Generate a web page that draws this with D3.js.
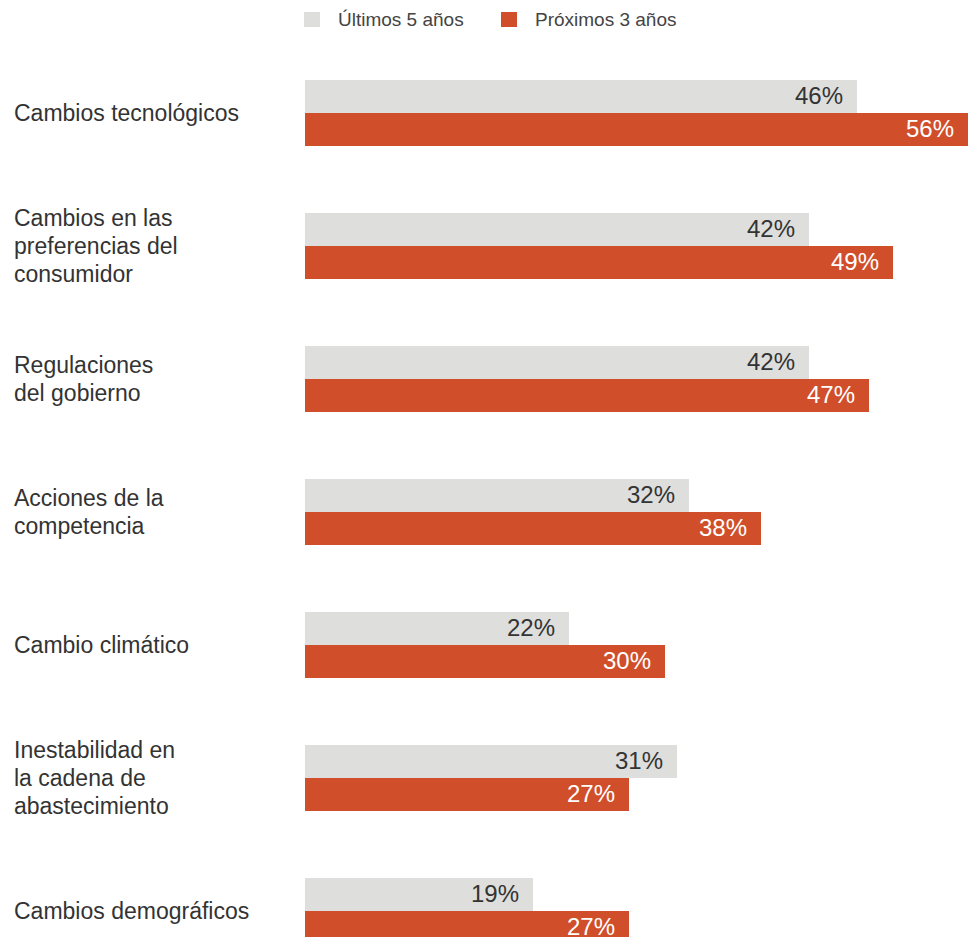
<!DOCTYPE html>
<html>
<head>
<meta charset="utf-8">
<script src="https://cdn.jsdelivr.net/npm/d3@7"></script>
<style>
  html, body { margin: 0; padding: 0; background: #fff; }
  svg { display: block; }
  text { font-family: "Liberation Sans", Arial, Helvetica, sans-serif; }
</style>
</head>
<body>
<svg id="chart" width="968" height="937"></svg>
<script>
// Factores de cambio: últimos 5 años vs. próximos 3 años (%)
const categories = [
  "Cambios tecnológicos",
  "Cambios en las\npreferencias del\nconsumidor",
  "Regulaciones\ndel gobierno",
  "Acciones de la\ncompetencia",
  "Cambio climático",
  "Inestabilidad en\nla cadena de\nabastecimiento",
  "Cambios demográficos"
];
const series = ["Últimos 5 años", "Próximos 3 años"];
const ultimos5 = [46, 42, 42, 32, 22, 31, 19];
const proximos3 = [56, 49, 47, 38, 30, 27, 27];
const seriesColors = ["#dededc", "#d04f2a"];
const labelColors = ["#333333", "#ffffff"];

const svg = d3.select("#chart");

const x = d3.scaleLinear().domain([0, 56]).range([305, 977]);
const y = d3.scaleBand().domain(categories).range([80, 944]).paddingInner(67 / 133).paddingOuter(0);
const ySub = d3.scaleBand().domain(series).range([0, y.bandwidth()]);

const rows = categories.map((c, i) => ({ cat: c, vals: [ultimos5[i], proximos3[i]] }));

// Legend
const legend = svg.append("g");
const legendX = [304, 501];
series.forEach((s, i) => {
  legend.append("rect")
    .attr("x", legendX[i]).attr("y", 12)
    .attr("width", 16).attr("height", 15)
    .attr("fill", seriesColors[i]);
  legend.append("text")
    .attr("x", legendX[i] + 34).attr("y", 26)
    .attr("font-size", 19).attr("fill", "#444")
    .text(s);
});

// Category labels
const lineH = 28;
svg.append("g").selectAll("text.cat")
  .data(rows).join("text")
  .attr("class", "cat")
  .attr("font-size", 23)
  .attr("fill", "#333")
  .each(function (d) {
    const lines = d.cat.split("\n");
    const cy = y(d.cat) + y.bandwidth() / 2;
    d3.select(this).selectAll("tspan").data(lines).join("tspan")
      .attr("x", 14)
      .attr("y", (l, j) => cy + (j - (lines.length - 1) / 2) * lineH + 8)
      .text(l => l);
  });

// Bars and value labels
const groups = svg.append("g").selectAll("g.row")
  .data(rows).join("g")
  .attr("class", "row")
  .attr("transform", d => `translate(0,${y(d.cat)})`);

groups.selectAll("rect")
  .data(d => d.vals.map((v, k) => ({ v, k })))
  .join("rect")
  .attr("x", x(0))
  .attr("y", d => ySub(series[d.k]))
  .attr("width", d => x(d.v) - x(0))
  .attr("height", ySub.bandwidth())
  .attr("fill", d => seriesColors[d.k]);

groups.selectAll("text.val")
  .data(d => d.vals.map((v, k) => ({ v, k })))
  .join("text")
  .attr("class", "val")
  .attr("x", d => Math.min(x(d.v), 968) - 14)
  .attr("y", d => ySub(series[d.k]) + ySub.bandwidth() / 2 + 7.5)
  .attr("text-anchor", "end")
  .attr("font-size", 24)
  .attr("fill", d => labelColors[d.k])
  .text(d => d.v + "%");
</script>
</body>
</html>
